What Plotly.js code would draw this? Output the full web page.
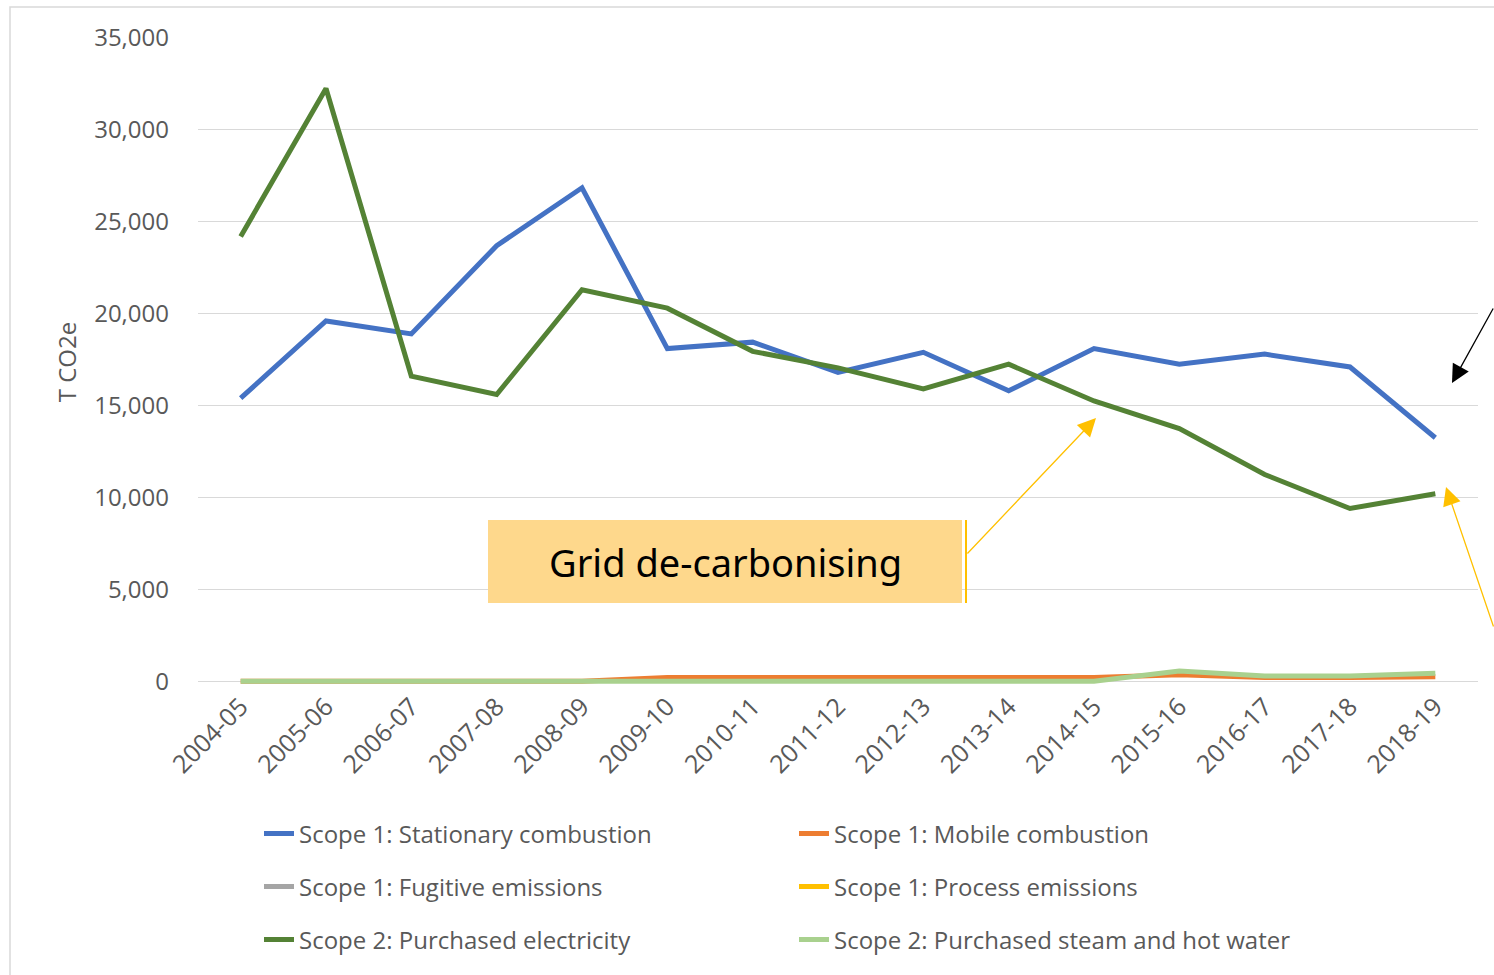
<!DOCTYPE html>
<html>
<head>
<meta charset="utf-8">
<script src="https://cdn.plot.ly/plotly-3.0.1.min.js"></script>
<style>
  html, body { margin: 0; padding: 0; background: #fff; }
  #chart { width: 1494px; height: 975px; }
</style>
</head>
<body>
<div id="chart"></div>
<script>
// ---- Data (T CO2e) ----
const years = ["2004-05","2005-06","2006-07","2007-08","2008-09","2009-10","2010-11","2011-12","2012-13","2013-14","2014-15","2015-16","2016-17","2017-18","2018-19"];
const stationaryCombustion = [15400, 19600, 18900, 23700, 26850, 18100, 18450, 16800, 17900, 15800, 18100, 17250, 17800, 17100, 13250];
const mobileCombustion     = [0, 0, 0, 0, 0, 200, 200, 200, 200, 200, 200, 350, 200, 200, 250];
const fugitiveEmissions    = [null, null, null, null, null, null, null, null, null, null, null, null, null, null, null];
const processEmissions     = [null, null, null, null, null, null, null, null, null, null, null, null, null, null, null];
const purchasedElectricity = [24200, 32250, 16600, 15600, 21300, 20300, 17950, 17050, 15900, 17250, 15250, 13750, 11250, 9400, 10200];
const purchasedSteam       = [0, 0, 0, 0, 0, 0, 0, 0, 0, 0, 0, 560, 280, 280, 440];
const yTickVals = [0, 5000, 10000, 15000, 20000, 25000, 30000, 35000];

// ---- Layout helpers (pixel -> paper) ----
const L = 198, R = 16, T = 38, B = 289, W = 1494, H = 975;
const PW = W - L - R, PH = H - T - B;
const px = v => (v - L) / PW;
const py = v => (H - B - v) / PH;

const font = "'Open Sans', 'Noto Sans', sans-serif";
const txt = '#595959';
const lw = 5;

function tr(name, y, color, legend) {
  return { type: 'scatter', mode: 'lines', name, x: years, y,
           line: { color, width: lw }, legend, hoverinfo: 'x+y+name' };
}

const data = [
  tr('Scope 1: Stationary combustion', stationaryCombustion, '#4472C4', 'legend'),
  tr('Scope 1: Mobile combustion', mobileCombustion, '#ED7D31', 'legend'),
  tr('Scope 1: Fugitive emissions', fugitiveEmissions, '#A5A5A5', 'legend2'),
  tr('Scope 1: Process emissions', processEmissions, '#FFC000', 'legend2'),
  tr('Scope 2: Purchased electricity', purchasedElectricity, '#548235', 'legend3'),
  tr('Scope 2: Purchased steam and hot water', purchasedSteam, '#A9D18E', 'legend3')
];

function leg(yPix) {
  return { orientation: 'h', x: px(259), xanchor: 'left', y: py(yPix), yanchor: 'middle',
           entrywidth: 490, entrywidthmode: 'pixels', bgcolor: 'rgba(0,0,0,0)',
           font: { family: font, size: 24, color: txt }, traceorder: 'normal',
           itemwidth: 30 };
}

const layout = {
  width: W, height: H,
  margin: { l: L, r: R, t: T, b: B, pad: 0 },
  paper_bgcolor: '#ffffff', plot_bgcolor: '#ffffff',
  font: { family: font, color: txt },
  showlegend: true,
  legend: leg(834),
  legend2: leg(887),
  legend3: leg(940),
  xaxis: {
    type: 'category', range: [-0.5, 14.5], tickangle: -45,
    showgrid: false, showline: false, ticks: '', zeroline: false,
    tickfont: { family: font, size: 25, color: txt },
    automargin: false
  },
  yaxis: {
    range: [-260, 35000], tickvals: yTickVals, tickformat: ',d',
    showgrid: true, gridcolor: '#D9D9D9', gridwidth: 1.3,
    zeroline: true, zerolinecolor: '#D9D9D9', zerolinewidth: 1.3,
    showline: false, ticks: '', ticklabelstandoff: 28,
    tickfont: { family: font, size: 24, color: txt },
    title: { text: 'T CO2e', font: { family: font, size: 24, color: txt }, standoff: 10 },
    automargin: false
  },
  shapes: [
    // chart area border (cropped at right/bottom)
    { type: 'rect', xref: 'paper', yref: 'paper', x0: px(10), x1: px(1530), y0: py(1030), y1: py(7),
      line: { color: '#D9D9D9', width: 1.5 }, fillcolor: 'rgba(0,0,0,0)', layer: 'below' },
    // callout box
    { type: 'rect', xref: 'paper', yref: 'paper', x0: px(488), x1: px(962), y0: py(603), y1: py(520),
      line: { width: 0 }, fillcolor: '#FED88C', layer: 'above' },
    // yellow bracket line
    { type: 'line', xref: 'paper', yref: 'paper', x0: px(966), x1: px(966), y0: py(603), y1: py(520),
      line: { color: '#FFC000', width: 2 } }
  ],
  annotations: [
    { xref: 'paper', yref: 'paper', x: px(725), y: py(562), text: 'Grid de-carbonising',
      showarrow: false, font: { family: "'Noto Sans', 'Open Sans', sans-serif", size: 38, color: '#000000' },
      xanchor: 'center', yanchor: 'middle' },
    { xref: 'paper', yref: 'paper', x: px(1096), y: py(418), text: '', showarrow: true,
      ax: -130, ay: 137, arrowhead: 2, arrowsize: 2.8, arrowwidth: 1.3, arrowcolor: '#FFC000' },
    { xref: 'paper', yref: 'paper', x: px(1446), y: py(487), text: '', showarrow: true,
      ax: 84, ay: 141, arrowhead: 2, arrowsize: 2.8, arrowwidth: 1.3, arrowcolor: '#FFC000' },
    { xref: 'paper', yref: 'paper', x: px(1452), y: py(383), text: '', showarrow: true,
      ax: 78, ay: -76, arrowhead: 2, arrowsize: 2.8, arrowwidth: 1.3, arrowcolor: '#000000' }
  ]
};

Plotly.newPlot('chart', data, layout, { displayModeBar: false, responsive: false });
</script>
</body>
</html>
